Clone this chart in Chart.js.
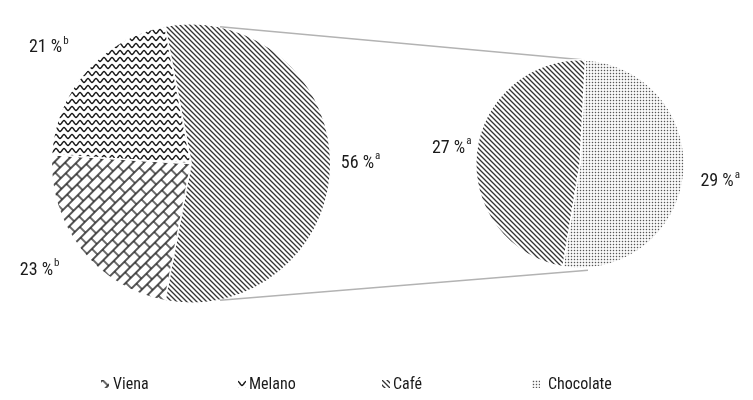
<!DOCTYPE html>
<html>
<head>
<meta charset="utf-8">
<script src="https://cdn.jsdelivr.net/npm/chart.js@4.4.1/dist/chart.umd.min.js"></script>
<style>
  body { margin: 0; background: #fff; }
  #wrap { position: relative; width: 753px; height: 400px; overflow: hidden;
          font-family: "Liberation Sans Narrow", "Roboto Condensed", "Arial Narrow", "DejaVu Sans Condensed", sans-serif; }
  #wrap canvas.layer { position: absolute; left: 0; top: 0; }
  #legend { position: absolute; left: 0; top: 374px; width: 753px; height: 20px; }
  .item { position: absolute; top: 0; display: flex; align-items: center; font-size: 16px; color: #1a1a1a; line-height: 20px; }
</style>
</head>
<body>
<div id="wrap">
  <canvas id="leftPie" class="layer" width="753" height="400"></canvas>
  <canvas id="rightPie" class="layer" width="753" height="400"></canvas>
  <div id="legend"></div>
</div>
<script>
/* Pie of pie: Café is split into Café + Chocolate on the right */

const leftCategories = ["Café", "Viena", "Melano"];
const leftValues = [56, 23, 21];
const leftMarks = ["a", "b", "b"];

const rightCategories = ["Chocolate", "Café"];
const rightValues = [29, 27];
const rightMarks = ["a", "a"];

const legendCategories = ["Viena", "Melano", "Café", "Chocolate"];

const FONT = '"Liberation Sans Narrow", "Roboto Condensed", "Arial Narrow", "DejaVu Sans Condensed", sans-serif';

/* ---------- hatch patterns ---------- */

const scratch = document.createElement("canvas").getContext("2d");

function tile(w, h, draw) {
    const c = document.createElement("canvas");
    c.width = w;
    c.height = h;
    draw(c.getContext("2d"), w, h);
    return c;
}

const patterns = {};

patterns["Café"] = scratch.createPattern(tile(5, 5, (g) => {
    g.strokeStyle = "#333333";
    g.lineWidth = 1.3;
    g.beginPath();
    g.moveTo(-1, -1); g.lineTo(6, 6);
    g.moveTo(-1, 4); g.lineTo(1, 6);
    g.moveTo(4, -1); g.lineTo(6, 1);
    g.stroke();
}), "repeat");

patterns["Melano"] = scratch.createPattern(tile(8, 7, (g, w) => {
    g.strokeStyle = "#1e1e1e";
    g.lineWidth = 1.4;
    g.beginPath();
    for (let x = -1; x <= w + 1; x += 0.5) {
        const y = 3.5 - 1.9 * Math.cos(2 * Math.PI * x / w);
        if (x === -1) g.moveTo(x, y); else g.lineTo(x, y);
    }
    g.stroke();
}), "repeat");

const brick = scratch.createPattern(tile(14, 16, (g) => {
    g.strokeStyle = "#1e1e1e";
    g.lineWidth = 1.3;
    g.beginPath();
    g.moveTo(0, 1); g.lineTo(14, 1);
    g.moveTo(0, 9); g.lineTo(14, 9);
    g.moveTo(1, 1); g.lineTo(1, 9);
    g.moveTo(8, 9); g.lineTo(8, 16);
    g.moveTo(8, 0); g.lineTo(8, 1);
    g.stroke();
}), "repeat");
brick.setTransform(new DOMMatrix().rotate(-45));
patterns["Viena"] = brick;

patterns["Chocolate"] = scratch.createPattern(tile(3, 3, (g) => {
    g.fillStyle = "#555555";
    g.fillRect(0.8, 0.8, 1.4, 1.4);
}), "repeat");

/* ---------- label plugin ---------- */

const pctLabels = {
    id: "pctLabels",
    afterDatasetsDraw(chart, args, opts) {
        const ctx = chart.ctx;
        const values = chart.data.datasets[0].data;
        chart.getDatasetMeta(0).data.forEach((arc, i) => {
            const mid = (arc.startAngle + arc.endAngle) / 2;
            const cos = Math.cos(mid), sin = Math.sin(mid);
            const r = arc.outerRadius + opts.gaps[i];
            const main = values[i] + " %";

            ctx.save();
            ctx.font = "18px " + FONT;
            const mw = ctx.measureText(main).width;
            ctx.font = "11px " + FONT;
            const sw = ctx.measureText(opts.marks[i]).width;
            const w = mw + 1 + sw;
            const h = 16;

            // label box pushed outward from its anchor point
            const cx = arc.x + cos * r + cos * w / 2;
            const cy = arc.y + sin * r + sin * h / 2 + opts.dy[i];
            const left = cx - w / 2;

            ctx.fillStyle = "#1a1a1a";
            ctx.textAlign = "left";
            ctx.textBaseline = "middle";
            ctx.font = "18px " + FONT;
            ctx.fillText(main, left, cy);
            ctx.font = "11px " + FONT;
            ctx.fillText(opts.marks[i], left + mw + 1, cy - 7);
            ctx.restore();
        });
    }
};

/* ---------- left pie ---------- */

const leftChart = new Chart(document.getElementById("leftPie"), {
    type: "pie",
    data: {
        labels: leftCategories,
        datasets: [{
            data: leftValues,
            backgroundColor: leftCategories.map((c) => patterns[c]),
            borderColor: "#ffffff",
            borderWidth: 1.5
        }]
    },
    options: {
        responsive: false,
        animation: false,
        // Café centred on the right side, as Excel does for pie of pie
        rotation: 90 - leftValues[0] * 3.6 / 2,
        layout: { padding: { left: 50, top: 23, right: 421, bottom: 96 } },
        events: [],
        plugins: {
            legend: { display: false },
            tooltip: { enabled: false },
            pctLabels: { gaps: [10, 32, 30], dy: [0, -3, 2], marks: leftMarks }
        }
    },
    plugins: [pctLabels]
});

/* ---------- connector lines ---------- */

const connectors = {
    id: "connectors",
    beforeDatasetsDraw(chart) {
        const a = leftChart.getDatasetMeta(0).data[0];
        const b = chart.getDatasetMeta(0).data[0];
        const t = 78 * Math.PI / 180;
        const ctx = chart.ctx;
        ctx.save();
        ctx.strokeStyle = "#b3b3b3";
        ctx.lineWidth = 1.6;
        ctx.beginPath();
        ctx.moveTo(a.x + Math.cos(-t) * a.outerRadius, a.y + Math.sin(-t) * a.outerRadius);
        ctx.lineTo(b.x + 2, b.y - b.outerRadius);
        ctx.moveTo(a.x + Math.cos(t) * a.outerRadius, a.y + Math.sin(t) * a.outerRadius);
        ctx.lineTo(b.x + 8, b.y + b.outerRadius + 2);
        ctx.stroke();
        ctx.restore();
    }
};

/* ---------- right pie ---------- */

new Chart(document.getElementById("rightPie"), {
    type: "pie",
    data: {
        labels: rightCategories,
        datasets: [{
            data: rightValues,
            backgroundColor: rightCategories.map((c) => patterns[c]),
            borderColor: "#ffffff",
            borderWidth: 1.5
        }]
    },
    options: {
        responsive: false,
        animation: false,
        rotation: 3,
        layout: { padding: { left: 475, top: 59, right: 68, bottom: 131 } },
        events: [],
        plugins: {
            legend: { display: false },
            tooltip: { enabled: false },
            pctLabels: { gaps: [17, 5], dy: [4, -3], marks: rightMarks }
        }
    },
    plugins: [connectors, pctLabels]
});

/* ---------- legend ---------- */

const legendLeft = [101, 238, 382, 532];
const legendGap = [4, 3, 3, 8];
const legend = document.getElementById("legend");

legendCategories.forEach((name, i) => {
    const item = document.createElement("div");
    item.className = "item";
    item.style.left = legendLeft[i] + "px";

    const sw = document.createElement("canvas");
    sw.width = 8;
    sw.height = 8;
    sw.style.marginRight = legendGap[i] + "px";
    const g = sw.getContext("2d");
    g.fillStyle = patterns[name];
    g.fillRect(0, 0, 8, 8);

    const label = document.createElement("span");
    label.textContent = name;

    item.appendChild(sw);
    item.appendChild(label);
    legend.appendChild(item);
});
</script>
</body>
</html>
